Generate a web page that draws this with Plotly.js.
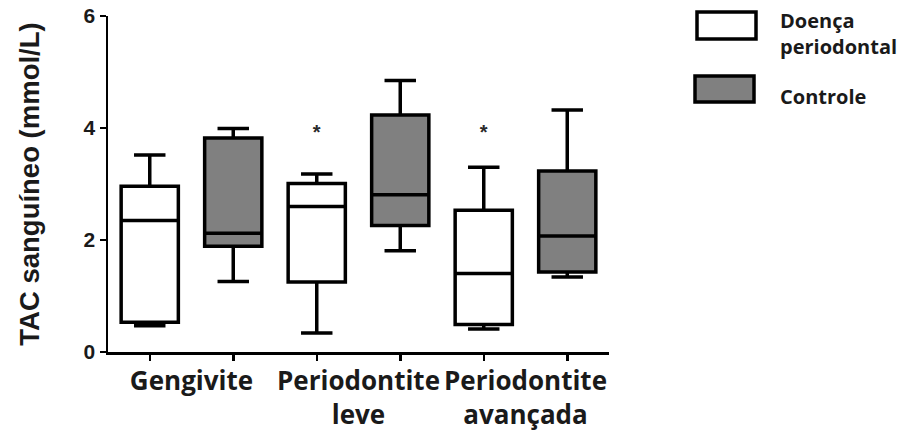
<!DOCTYPE html>
<html>
<head>
<meta charset="utf-8">
<script src="https://cdn.plot.ly/plotly-3.0.1.min.js"></script>
<style>html,body{margin:0;padding:0;background:#fff;}#chart{width:901px;height:433px;}</style>
</head>
<body>
<div id="chart"></div>
<script>
// ---- data ----
const categories = ['Gengivite', 'Periodontite<br>leve', 'Periodontite<br>avançada'];
const seriesNames = ['Doença periodontal', 'Controle'];
const doencaMin = [0.47, 0.34, 0.41];
const doencaQ1  = [0.53, 1.25, 0.49];
const doencaMed = [2.35, 2.60, 1.40];
const doencaQ3  = [2.96, 3.01, 2.53];
const doencaMax = [3.52, 3.18, 3.30];
const controleMin = [1.26, 1.81, 1.34];
const controleQ1  = [1.89, 2.26, 1.43];
const controleMed = [2.12, 2.81, 2.07];
const controleQ3  = [3.82, 4.23, 3.23];
const controleMax = [3.99, 4.85, 4.32];
const sigY    = [null, 3.90, 3.89];
const sigText = ['', '*', '*'];
const yTickVals = [0, 2, 4, 6];
const yTitle = 'TAC sanguíneo (mmol/L)';

// ---- positions derived from category index ----
const xDoenca   = categories.map((c, i) => 2 * i);
const xControle = categories.map((c, i) => 2 * i + 1);
const xCatCenters = categories.map((c, i) => 2 * i + 0.5);
const allBoxTicks = xDoenca.concat(xControle).sort((a, b) => a - b);

const labelFont = {family: '"Open Sans", sans-serif', size: 26, color: '#1a1a1a', weight: 700};
const legendFont = {family: '"Open Sans", sans-serif', size: 20, color: '#1a1a1a', weight: 700};
const boxCommon = {type: 'box', width: 0.685, whiskerwidth: 0.55, boxpoints: false,
  line: {color: '#000', width: 3.5}, hoverinfo: 'skip', showlegend: false};

const traces = [
  Object.assign({}, boxCommon, {name: seriesNames[0], x: xDoenca, q1: doencaQ1, median: doencaMed,
    q3: doencaQ3, lowerfence: doencaMin, upperfence: doencaMax, fillcolor: '#ffffff'}),
  Object.assign({}, boxCommon, {name: seriesNames[1], x: xControle, q1: controleQ1, median: controleMed,
    q3: controleQ3, lowerfence: controleMin, upperfence: controleMax, fillcolor: '#808080'}),
  {type: 'scatter', mode: 'text', x: xDoenca, y: sigY, text: sigText, xaxis: 'x2',
   textposition: 'middle center', textfont: {family: 'Liberation Sans, Arial', size: 20, color: '#2a2a2a', weight: 700},
   hoverinfo: 'skip', showlegend: false}
];

const W = 501, H = 336, L = 108, T = 16;
const px = v => (v - L) / W;
const py = v => (T + H - v) / H;

const layout = {
  width: 901, height: 433,
  margin: {l: L, r: 901 - L - W, t: T, b: 433 - T - H},
  paper_bgcolor: '#fff', plot_bgcolor: '#fff',
  showlegend: false,
  xaxis: {range: [-0.5, 5.5], tickvals: allBoxTicks, ticktext: allBoxTicks.map(() => ''),
    ticks: 'outside', ticklen: 6, tickwidth: 2.5, tickcolor: '#000',
    showline: true, linecolor: '#000', linewidth: 2.5, showgrid: false, zeroline: false, fixedrange: true},
  xaxis2: {overlaying: 'x', anchor: 'y', side: 'bottom', range: [-0.5, 5.5], tickangle: 0,
    tickvals: xCatCenters, ticktext: categories, ticks: '', showline: false, showgrid: false,
    zeroline: false, tickfont: labelFont, ticklabelstandoff: 11},
  yaxis: {range: [0, 6], tickvals: yTickVals, ticks: 'outside', ticklen: 6, tickwidth: 2.5, tickcolor: '#000',
    showline: true, linecolor: '#000', linewidth: 2.5, showgrid: false, zeroline: false,
    tickfont: {family: 'Liberation Sans, Arial', size: 21, color: '#1a1a1a', weight: 700},
    title: {text: yTitle, standoff: 36, font: {family: 'Liberation Sans, Arial', size: 27.5, color: '#1a1a1a', weight: 700}}},
  shapes: [
    {type: 'rect', xref: 'paper', yref: 'paper', x0: px(697), x1: px(756), y0: py(39), y1: py(12),
     line: {color: '#000', width: 3.5}, fillcolor: '#ffffff'},
    {type: 'rect', xref: 'paper', yref: 'paper', x0: px(695), x1: px(754), y0: py(102), y1: py(76),
     line: {color: '#000', width: 3.5}, fillcolor: '#808080'}
  ],
  annotations: [
    {xref: 'paper', yref: 'paper', x: px(778), y: py(33), xanchor: 'left', yanchor: 'middle', showarrow: false,
     align: 'left', text: 'Doença<br>periodontal', font: legendFont},
    {xref: 'paper', yref: 'paper', x: px(778), y: py(96), xanchor: 'left', yanchor: 'middle', showarrow: false,
     align: 'left', text: 'Controle', font: legendFont}
  ]
};

Plotly.newPlot('chart', traces, layout, {displayModeBar: false, staticPlot: true});
</script>
</body>
</html>
